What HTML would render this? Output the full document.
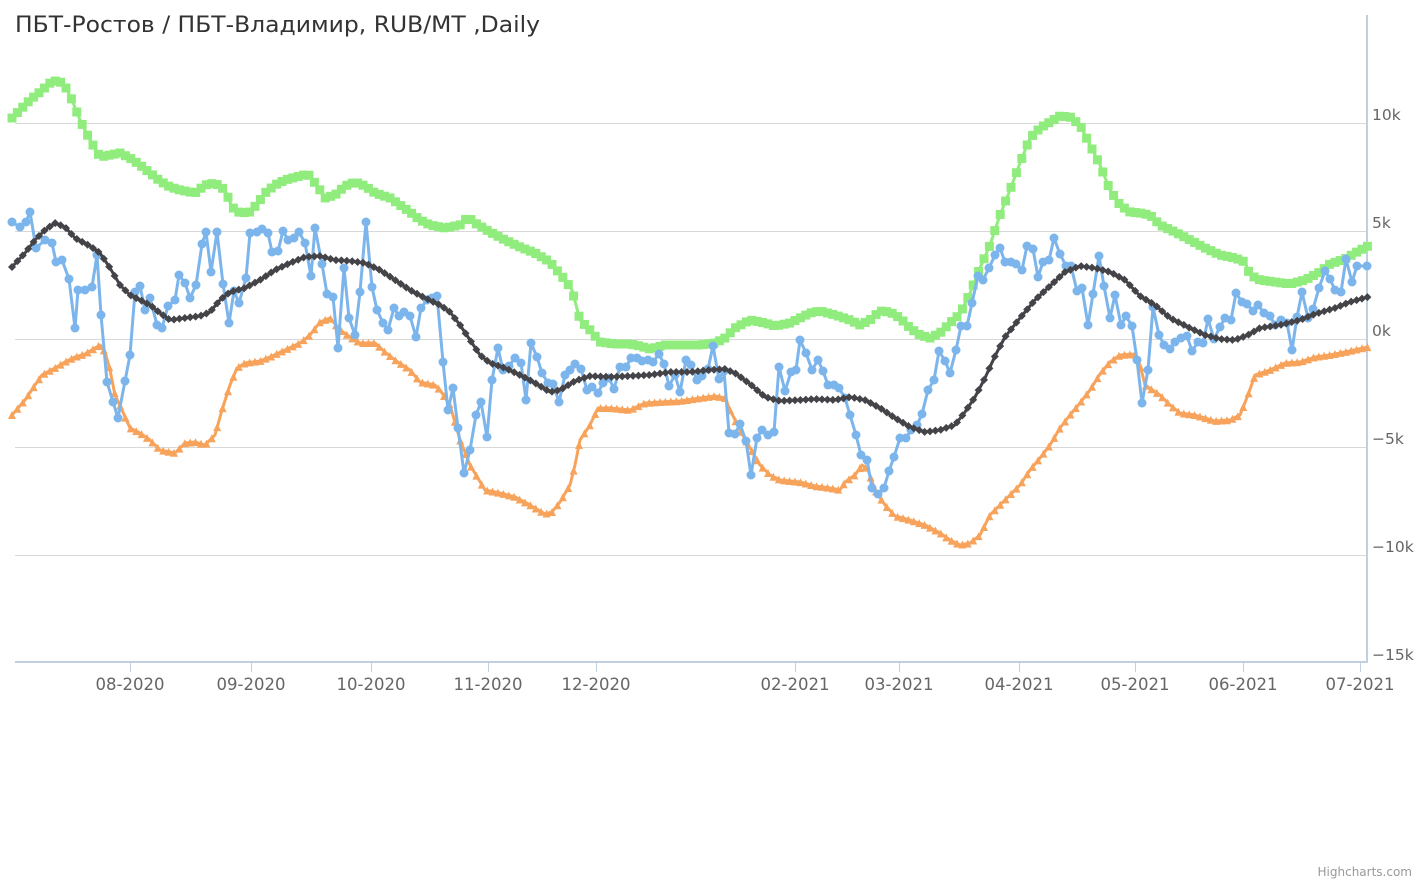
<!DOCTYPE html>
<html><head><meta charset="utf-8"><style>
html,body{margin:0;padding:0;background:#fff;}
svg{display:block;font-family:"DejaVu Sans","Liberation Sans",sans-serif;}
</style></head><body>
<svg id="c" width="1427" height="883" xmlns="http://www.w3.org/2000/svg">
<text x="15" y="32" font-size="22" fill="#333" textLength="525" lengthAdjust="spacingAndGlyphs">ПБТ-Ростов / ПБТ-Владимир, RUB/MT ,Daily</text>
<g stroke="#d8d8d8" stroke-width="1">
<line x1="15" x2="1367" y1="123.5" y2="123.5"/>
<line x1="15" x2="1367" y1="231.5" y2="231.5"/>
<line x1="15" x2="1367" y1="339.5" y2="339.5"/>
<line x1="15" x2="1367" y1="447.5" y2="447.5"/>
<line x1="15" x2="1367" y1="555.5" y2="555.5"/>
</g>
<g stroke="#c0d0e0" stroke-width="2">
<line x1="1367" x2="1367" y1="15" y2="663"/>
<line x1="15" x2="1368" y1="662" y2="662"/>
</g>
<g stroke="#c0d0e0" stroke-width="1" id="ticks"></g>
<g font-size="15.5" fill="#666">
<text x="1372" y="120">10k</text>
<text x="1372" y="228">5k</text>
<text x="1372" y="336">0k</text>
<text x="1372" y="444">−5k</text>
<text x="1372" y="552">−10k</text>
<text x="1372" y="660">−15k</text>
</g>
<g font-size="16.5" fill="#666" text-anchor="middle" id="xl"></g>
<g id="series"></g>
<text x="1412" y="876" font-size="12" fill="#999" text-anchor="end">Highcharts.com</text>
</svg>
<script>
var NS="http://www.w3.org/2000/svg";
function el(t,a,p){var e=document.createElementNS(NS,t);for(var k in a)e.setAttribute(k,a[k]);p.appendChild(e);return e;}
var xt=[[130,"08-2020"],[251,"09-2020"],[371,"10-2020"],[488,"11-2020"],[596,"12-2020"],[795,"02-2021"],[899,"03-2021"],[1019,"04-2021"],[1135,"05-2021"],[1243,"06-2021"],[1360,"07-2021"]];
var tk=document.getElementById("ticks"),xl=document.getElementById("xl");
xt.forEach(function(t){el("line",{x1:t[0]+.5,x2:t[0]+.5,y1:662,y2:672},tk);var s=el("text",{x:t[0],y:690},xl);s.textContent=t[1];});
function P(s){return s.trim().split(/\)\s*,?\s*\(/).map(function(p){p=p.replace(/[()]/g,"").split(",");return [+p[0],+p[1]];});}
var green=P("(12,118),(20,110),(30,100),(40,92),(50,83),(58,80),(65,86),(72,100),(80,120),(90,140),(100,157),(110,155),(120,153),(130,158),(140,165),(150,173),(160,181),(170,187),(180,190),(195,193),(205,185),(215,183),(225,190),(232,207),(240,213),(250,212),(258,203),(265,193),(275,185),(285,180),(300,176),(308,174),(318,187),(325,198),(335,195),(345,186),(355,182),(365,186),(375,193),(390,198),(400,205),(410,212),(420,220),(430,225),(445,228),(460,225),(468,217),(475,223),(490,232),(505,240),(520,247),(535,253),(550,262),(565,280),(572,290),(580,320),(590,330),(600,342),(615,344),(630,344),(640,346),(650,349),(665,345),(680,345),(700,345),(715,343),(725,338),(735,328),(750,320),(765,323),(775,326),(790,323),(800,318),(810,313),(820,311),(835,315),(850,320),(860,325),(870,320),(880,311),(890,312),(900,318),(910,328),(920,335),(930,338),(940,333),(950,323),(960,314),(970,293),(980,268),(990,245),(1000,215),(1010,190),(1020,163),(1030,138),(1040,128),(1050,122),(1060,116),(1070,117),(1080,125),(1090,145),(1100,165),(1110,190),(1120,205),(1130,212),(1140,213),(1150,215),(1160,225),(1175,232),(1190,240),(1205,248),(1220,255),(1235,258),(1245,262),(1250,275),(1260,280),(1275,282),(1290,284),(1305,280),(1320,272),(1330,264),(1345,259),(1355,253),(1368,246)");
var orange=P("(12,415),(25,400),(35,385),(42,375),(55,368),(65,362),(75,357),(85,354),(95,348),(100,345),(105,352),(110,370),(115,395),(122,410),(130,428),(140,433),(150,440),(160,450),(175,453),(185,443),(195,442),(205,445),(215,435),(222,410),(230,385),(237,368),(245,363),(260,361),(270,357),(285,350),(300,343),(310,335),(320,322),(330,318),(340,330),(350,337),(360,343),(375,343),(385,352),(395,360),(410,370),(420,382),(435,385),(440,390),(450,405),(460,440),(470,465),(485,490),(500,493),(515,497),(530,505),(545,514),(552,512),(560,502),(570,485),(575,465),(580,440),(590,425),(598,408),(610,408),(630,410),(645,403),(660,402),(680,401),(700,398),(715,396),(725,398),(730,410),(740,430),(750,448),(760,465),(770,475),(780,480),(800,482),(815,486),(830,488),(840,490),(845,482),(855,475),(862,465),(868,470),(875,490),(885,505),(895,516),(910,520),(925,525),(940,533),(950,540),(960,545),(970,543),(980,535),(990,515),(1000,505),(1010,495),(1020,485),(1030,470),(1040,458),(1050,445),(1060,428),(1070,415),(1080,403),(1090,390),(1100,374),(1110,362),(1120,355),(1135,354),(1140,365),(1145,385),(1160,395),(1170,405),(1180,413),(1195,415),(1205,418),(1215,421),(1230,420),(1240,415),(1248,395),(1255,375),(1270,370),(1285,363),(1300,362),(1315,357),(1330,355),(1345,352),(1368,347)");
var black=P("(12,267),(25,253),(35,240),(45,230),(55,223),(65,227),(75,238),(90,246),(100,253),(110,268),(120,285),(130,295),(140,300),(150,305),(160,313),(170,320),(185,318),(200,316),(210,312),(220,300),(230,292),(245,288),(260,280),(275,270),(290,263),(305,257),(320,256),(335,260),(350,261),(365,263),(380,270),(395,280),(410,290),(425,298),(440,305),(450,312),(460,325),(470,340),(480,355),(490,363),(505,368),(520,375),(535,383),(550,392),(560,390),(575,381),(590,376),(610,377),(630,376),(650,375),(670,372),(690,372),(710,370),(725,369),(735,373),(750,384),(765,397),(780,401),(800,400),(815,399),(835,400),(850,397),(865,400),(880,408),(895,418),(910,427),(925,432),(940,430),(955,425),(965,412),(975,397),(985,378),(995,356),(1005,337),(1020,318),(1035,300),(1050,286),(1065,272),(1080,266),(1095,268),(1110,272),(1125,280),(1140,296),(1155,305),(1170,318),(1190,328),(1205,335),(1220,339),(1235,340),(1248,335),(1260,328),(1280,325),(1300,320),(1315,314),(1335,308),(1350,302),(1368,297)");
var blue=P("(12,222),(20,227),(26,222),(30,212),(36,248),(45,240),(52,243),(56,262),(62,260),(69,279),(75,328),(78,290),(85,290),(92,287),(97,255),(101,315),(107,382),(113,402),(118,418),(125,381),(130,355),(135,292),(140,286),(145,310),(150,298),(157,325),(162,328),(168,306),(175,300),(179,275),(185,283),(190,298),(196,285),(202,244),(206,232),(211,272),(217,232),(223,284),(229,323),(234,291),(239,303),(246,278),(250,233),(257,232),(262,229),(268,233),(272,252),(278,251),(283,231),(288,240),(294,238),(299,232),(305,243),(311,276),(315,228),(322,264),(327,294),(333,297),(338,348),(344,268),(349,318),(355,335),(360,292),(366,222),(372,287),(377,310),(383,323),(388,330),(394,308),(399,316),(404,312),(410,316),(416,337),(421,308),(427,300),(432,298),(437,296),(443,362),(448,410),(453,388),(458,428),(464,473),(470,450),(476,415),(481,402),(487,437),(492,380),(498,348),(503,370),(509,366),(515,358),(521,363),(526,400),(531,343),(537,357),(542,373),(548,383),(553,384),(559,402),(565,375),(570,370),(575,364),(581,369),(587,390),(592,387),(598,393),(603,383),(609,378),(614,389),(620,367),(626,367),(631,358),(637,358),(642,361),(648,360),(653,362),(659,354),(664,364),(669,386),(675,375),(680,392),(686,360),(691,365),(697,380),(702,376),(708,369),(713,346),(719,379),(724,371),(729,433),(735,434),(740,424),(746,441),(751,475),(757,438),(762,430),(768,435),(774,432),(779,367),(785,391),(791,372),(796,370),(800,340),(806,353),(812,370),(818,360),(823,371),(828,385),(834,385),(839,388),(845,398),(850,415),(856,435),(861,455),(867,460),(872,488),(878,494),(884,488),(889,471),(894,457),(900,438),(906,438),(911,430),(917,425),(922,414),(928,390),(934,380),(939,351),(945,361),(950,373),(956,350),(961,326),(967,326),(972,303),(978,276),(983,280),(989,268),(995,255),(1000,248),(1005,262),(1011,262),(1016,264),(1022,270),(1027,246),(1033,249),(1038,277),(1043,262),(1049,260),(1054,238),(1060,254),(1066,266),(1071,266),(1077,291),(1082,288),(1088,325),(1093,294),(1099,256),(1104,286),(1110,318),(1115,295),(1121,325),(1126,316),(1132,326),(1137,360),(1142,403),(1148,370),(1153,307),(1159,335),(1164,345),(1170,349),(1175,342),(1181,338),(1187,336),(1192,351),(1198,342),(1203,343),(1208,319),(1214,339),(1220,327),(1225,318),(1231,320),(1236,293),(1242,302),(1247,304),(1253,311),(1258,305),(1264,313),(1270,316),(1275,325),(1281,320),(1287,323),(1292,350),(1297,317),(1302,292),(1308,318),(1313,309),(1319,288),(1325,271),(1330,279),(1335,290),(1341,292),(1346,259),(1352,282),(1357,266),(1367,266)");
function resample(pts,step){var out=[];for(var x=pts[0][0];x<=pts[pts.length-1][0];x+=step){for(var i=0;i<pts.length-1;i++){if(x>=pts[i][0]&&x<=pts[i+1][0]){var t=(x-pts[i][0])/(pts[i+1][0]-pts[i][0]||1);out.push([x,pts[i][1]+t*(pts[i+1][1]-pts[i][1])]);break;}}}return out;}
var g=document.getElementById("series");
function draw(pts,color,shape,r){
 el("polyline",{points:pts.map(function(p){return p.join(",")}).join(" "),fill:"none",stroke:color,"stroke-width":3,"stroke-linejoin":"round"},g);
 var m=shape==="circle"?pts:resample(pts,5.4);
 m.forEach(function(p){var x=p[0],y=p[1];
  if(shape==="circle")el("circle",{cx:x,cy:y,r:r,fill:color},g);
  else if(shape==="square")el("rect",{x:x-r,y:y-r,width:2*r,height:2*r,fill:color},g);
  else if(shape==="tri")el("polygon",{points:x+","+(y-r)+" "+(x+r)+","+(y+r)+" "+(x-r)+","+(y+r),fill:color},g);
  else el("polygon",{points:x+","+(y-r)+" "+(x+r)+","+y+" "+x+","+(y+r)+" "+(x-r)+","+y,fill:color},g);
 });
}
draw(green,"#90ed7d","square",4.5);
draw(orange,"#f7a35c","tri",4);
draw(blue,"#7cb5ec","circle",4.5);
draw(black,"#434348","diamond",4);
</script>
</body></html>
